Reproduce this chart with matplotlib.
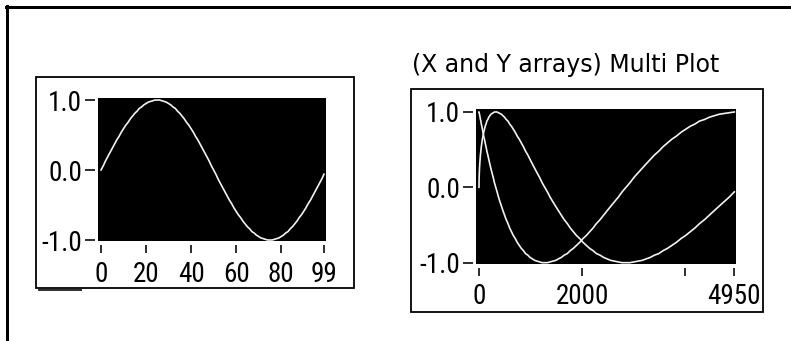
import matplotlib
matplotlib.use("Agg")
import matplotlib.pyplot as plt
from matplotlib.patches import Rectangle
from matplotlib.lines import Line2D
from matplotlib import font_manager as fm
import numpy as np

# ---------------- data ----------------
sine_y = [0.00, 0.06, 0.13, 0.19, 0.25, 0.31, 0.37, 0.43, 0.48, 0.54,
          0.59, 0.64, 0.68, 0.73, 0.77, 0.81, 0.84, 0.88, 0.90, 0.93,
          0.95, 0.97, 0.98, 0.99, 1.00, 1.00, 1.00, 0.99, 0.98, 0.97,
          0.95, 0.93, 0.90, 0.88, 0.84, 0.81, 0.77, 0.73, 0.68, 0.64,
          0.59, 0.54, 0.48, 0.43, 0.37, 0.31, 0.25, 0.19, 0.13, 0.06,
          0.00, -0.06, -0.13, -0.19, -0.25, -0.31, -0.37, -0.43, -0.48, -0.54,
          -0.59, -0.64, -0.68, -0.73, -0.77, -0.81, -0.84, -0.88, -0.90, -0.93,
          -0.95, -0.97, -0.98, -0.99, -1.00, -1.00, -1.00, -0.99, -0.98, -0.97,
          -0.95, -0.93, -0.90, -0.88, -0.84, -0.81, -0.77, -0.73, -0.68, -0.64,
          -0.59, -0.54, -0.48, -0.43, -0.37, -0.31, -0.25, -0.19, -0.13, -0.06]

cosine_y = [1.00, 1.00, 0.99, 0.98, 0.97, 0.95, 0.93, 0.90, 0.88, 0.84,
            0.81, 0.77, 0.73, 0.68, 0.64, 0.59, 0.54, 0.48, 0.43, 0.37,
            0.31, 0.25, 0.19, 0.13, 0.06, 0.00, -0.06, -0.13, -0.19, -0.25,
            -0.31, -0.37, -0.43, -0.48, -0.54, -0.59, -0.64, -0.68, -0.73, -0.77,
            -0.81, -0.84, -0.88, -0.90, -0.93, -0.95, -0.97, -0.98, -0.99, -1.00,
            -1.00, -1.00, -0.99, -0.98, -0.97, -0.95, -0.93, -0.90, -0.88, -0.84,
            -0.81, -0.77, -0.73, -0.68, -0.64, -0.59, -0.54, -0.48, -0.43, -0.37,
            -0.31, -0.25, -0.19, -0.13, -0.06, 0.00, 0.06, 0.13, 0.19, 0.25,
            0.31, 0.37, 0.43, 0.48, 0.54, 0.59, 0.64, 0.68, 0.73, 0.77,
            0.81, 0.84, 0.88, 0.90, 0.93, 0.95, 0.97, 0.98, 0.99, 1.00]

multi_x = [0, 1, 3, 6, 10, 15, 21, 28, 36, 45,
           55, 66, 78, 91, 105, 120, 136, 153, 171, 190,
           210, 231, 253, 276, 300, 325, 351, 378, 406, 435,
           465, 496, 528, 561, 595, 630, 666, 703, 741, 780,
           820, 861, 903, 946, 990, 1035, 1081, 1128, 1176, 1225,
           1275, 1326, 1378, 1431, 1485, 1540, 1596, 1653, 1711, 1770,
           1830, 1891, 1953, 2016, 2080, 2145, 2211, 2278, 2346, 2415,
           2485, 2556, 2628, 2701, 2775, 2850, 2926, 3003, 3081, 3160,
           3240, 3321, 3403, 3486, 3570, 3655, 3741, 3828, 3916, 4005,
           4095, 4186, 4278, 4371, 4465, 4560, 4656, 4753, 4851, 4950]

y_ticks = [1.0, 0.0, -1.0]
y_tick_labels = ["1.0", "0.0", "-1.0"]
left_x_ticks = [0, 20, 40, 60, 80, 99]
left_x_labels = ["0", "20", "40", "60", "80", "99"]
right_x_ticks = [0, 2000, 4000, 4950]
right_x_labels = ["0", "2000", "", "4950"]
right_title = "(X and Y arrays) Multi Plot"

# ---------------- layout ----------------
W, H = 791, 341
DPI = 100
PT = 72.0 / DPI  # points per pixel


def pick_narrow_font():
    narrow_stretch = {"condensed", "semi-condensed", "extra-condensed",
                      "ultra-condensed"}
    cands = []
    for f in fm.fontManager.ttflist:
        if f.style != "normal":
            continue
        w = f.weight if isinstance(f.weight, int) else 400
        if w != 400:
            continue
        low = (f.name + " " + f.fname).lower()
        is_narrow = ("narrow" in low or "condensed" in low
                     or str(f.stretch) in narrow_stretch)
        if not is_narrow:
            continue
        if "bold" in low or "light" in low or "thin" in low or "black" in low \
                or "medium" in low or "semibold" in low or "extra" in low.replace("extra-condensed", ""):
            continue
        prio = 9
        if "liberation" in low:
            prio = 0
        elif "roboto" in low:
            prio = 1
        elif "noto" in low:
            prio = 2
        elif "open" in low:
            prio = 3
        elif "dejavu" in low:
            prio = 4
        cands.append((prio, f.fname))
    cands.sort()
    if cands:
        return fm.FontProperties(fname=cands[0][1]), cands[0][0]
    return fm.FontProperties(family="DejaVu Sans"), 10


tick_fp, tick_prio = pick_narrow_font()
tick_size = 19.5 if tick_prio <= 3 else 17

fig = plt.figure(figsize=(W / DPI, H / DPI), dpi=DPI)
fig.patch.set_facecolor("white")


def fx(x):
    return x / W


def fy(y):
    return 1 - y / H


def rect_axes(x0, y0, x1, y1):
    return fig.add_axes([fx(x0), fy(y1), fx(x1) - fx(x0), (y1 - y0) / H])


def style(ax, xticks, xlabels):
    ax.set_facecolor("black")
    for s in ["top", "right"]:
        ax.spines[s].set_visible(False)
    ax.spines["left"].set_position(("outward", 3 * PT))
    ax.spines["bottom"].set_position(("outward", 4 * PT))
    ax.spines["left"].set_visible(False)
    ax.spines["bottom"].set_visible(False)
    ax.set_yticks(y_ticks)
    ax.set_yticklabels(y_tick_labels)
    ax.set_xticks(xticks)
    ax.set_xticklabels(xlabels)
    ax.tick_params(axis="y", length=10 * PT, width=1.6 * PT, pad=3 * PT,
                   direction="out", colors="black")
    ax.tick_params(axis="x", length=8 * PT, width=1.6 * PT, pad=8 * PT,
                   direction="out", colors="black")
    for lab in ax.get_xticklabels() + ax.get_yticklabels():
        lab.set_fontproperties(tick_fp)
        lab.set_fontsize(tick_size)


# Outer window border lines
fig.add_artist(Line2D([fx(6), fx(W)], [fy(7), fy(7)], transform=fig.transFigure,
                      color="black", lw=3 * PT))
fig.add_artist(Line2D([fx(7), fx(7)], [fy(6), fy(H)], transform=fig.transFigure,
                      color="black", lw=3 * PT))

# Panel frames
for (x0, y0, x1, y1) in [(36, 77, 354, 288), (411, 89, 763, 312)]:
    fig.add_artist(Rectangle((fx(x0), fy(y1)), fx(x1) - fx(x0), (y1 - y0) / H,
                             transform=fig.transFigure, fill=False,
                             ec="black", lw=1.8 * PT))
# small clipped label remnant under left frame
fig.add_artist(Rectangle((fx(38), fy(291)), fx(82) - fx(38), 2.5 / H,
                         transform=fig.transFigure, fc="#333333", ec="none"))

# Left waveform graph
ax1 = rect_axes(98, 97.5, 326, 241)
ax1.plot(np.arange(len(sine_y)), sine_y, color="#f2f2f2", lw=1.2)
ax1.set_xlim(-1.33, 99.9)
ax1.set_ylim(-1.014, 1.036)
style(ax1, left_x_ticks, left_x_labels)

# Right multi plot
ax2 = rect_axes(476, 109.5, 735.5, 263.5)
ax2.plot(multi_x, cosine_y, color="#f2f2f2", lw=1.2)
ax2.plot(multi_x, sine_y, color="#f2f2f2", lw=1.2)
ax2.set_xlim(-58, 4973)
ax2.set_ylim(-1.011, 1.033)
style(ax2, right_x_ticks, right_x_labels)

fig.text(fx(412), fy(65), right_title, fontsize=17, family="DejaVu Sans",
         ha="left", va="center", color="black")

fig.savefig("out.png", dpi=DPI, facecolor="white")
